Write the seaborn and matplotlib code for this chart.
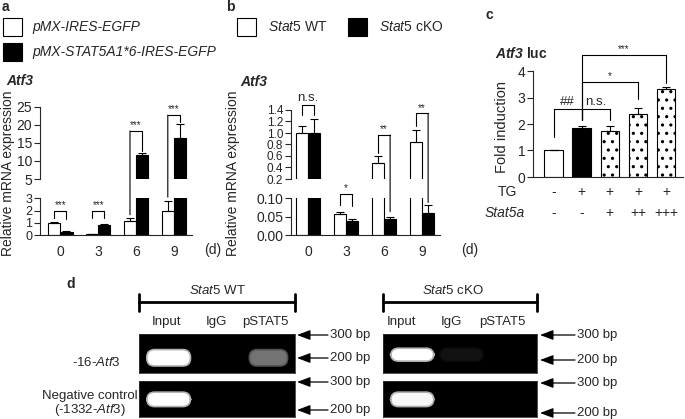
import numpy as np
import pandas as pd
import matplotlib.pyplot as plt
import seaborn as sns
from matplotlib.patches import ConnectionPatch, FancyBboxPatch

# ---- data ----
days = ["0", "3", "6", "9"]

a_groups = ["pMX-IRES-EGFP", "pMX-STAT5A1*6-IRES-EGFP"]
a_ctrl = [1.0, 0.1, 1.17, 1.96]
a_ctrl_err = [0.05, 0.02, 0.19, 0.84]
a_stat = [0.27, 0.82, 11.6, 16.3]
a_stat_err = [0.04, 0.05, 0.7, 3.8]
a_sig = ["***", "***", "***", "***"]

b_groups = ["Stat5 WT", "Stat5 cKO"]
b_wt = [1.0, 0.056, 0.48, 0.85]
b_wt_err = [0.13, 0.007, 0.12, 0.2]
b_ko = [1.0, 0.038, 0.043, 0.059]
b_ko_err = [0.25, 0.005, 0.0065, 0.022]
b_sig = ["n.s.", "*", "**", "**"]

c_tg = ["-", "+", "+", "+", "+"]
c_stat5a = ["-", "-", "+", "++", "+++"]
c_vals = [1.0, 1.85, 1.74, 2.38, 3.32]
c_err = [0.02, 0.09, 0.18, 0.24, 0.09]
c_pairs = [(0, 1), (1, 2), (1, 3), (1, 4)]
c_sig = ["##", "n.s.", "*", "***"]

lanes = ["Input", "IgG", "pSTAT5"]
# band brightness (0 = nothing, 1 = saturated)
wt_top = [1.0, 0.0, 0.45]
wt_bottom = [1.0, 0.0, 0.0]
ko_top = [1.0, 0.07, 0.0]
ko_bottom = [0.97, 0.0, 0.0]

sns.set_style("ticks")
plt.rcParams["font.family"] = ["Liberation Sans", "DejaVu Sans"]
plt.rcParams["mathtext.fontset"] = "custom"
plt.rcParams["mathtext.rm"] = "Liberation Sans"
plt.rcParams["mathtext.it"] = "Liberation Sans:italic"
plt.rcParams["mathtext.bf"] = "Liberation Sans:bold"
plt.rcParams["mathtext.bfit"] = "Liberation Sans:bold:italic"
plt.rcParams["axes.linewidth"] = 0.8
plt.rcParams["hatch.linewidth"] = 1.1

W, H = 685, 419
LW = 0.8
fig = plt.figure(figsize=(W / 100, H / 100), dpi=100)


def box(x0, y0, x1, y1):
    return [x0 / W, 1 - y1 / H, (x1 - x0) / W, (y1 - y0) / H]


bg = fig.add_axes([0, 0, 1, 1])
bg.set_xlim(0, W)
bg.set_ylim(H, 0)
bg.axis("off")


def style_ax(ax):
    ax.set_xlabel("")
    ax.set_ylabel("")
    sns.despine(ax=ax)
    ax.tick_params(axis="y", length=4, width=LW, pad=1.5, labelsize=10)
    ax.tick_params(axis="x", length=0, pad=7, labelsize=10)


def bracket(x1, x2, top, ax_top, left, ax_left, right, ax_right, label, fs):
    ax_top.plot([x1, x2], [top, top], color="k", lw=LW, clip_on=False)
    for x, y, a in ((x1, left, ax_left), (x2, right, ax_right)):
        if a is ax_top:
            ax_top.plot([x, x], [y, top], color="k", lw=LW, clip_on=False)
        else:
            con = ConnectionPatch((x, top), (x, y), coordsA=ax_top.transData,
                                  coordsB=a.transData, color="k", lw=LW)
            fig.add_artist(con)
    ax_top.annotate(label, xy=((x1 + x2) / 2, top), xytext=(0, 0.5),
                    textcoords="offset points", ha="center", va="bottom",
                    fontsize=fs, annotation_clip=False)


def broken_panel(x0, x1, up_y, lo_y, groups, v1, e1, v2, e2, up_lim, lo_lim,
                 up_ticks, lo_ticks, width, xlim, up_fmt, lo_fmt,
                 up_fs=10, lo_fs=10):
    df = pd.DataFrame({"day": days * 2, "group": np.repeat(groups, 4),
                       "value": v1 + v2})
    pal = dict(zip(groups, ["white", "black"]))
    up = fig.add_axes(box(x0, up_y[0], x1, up_y[1]))
    lo = fig.add_axes(box(x0, lo_y[0], x1, lo_y[1]))
    x = np.arange(len(days))
    for ax in (up, lo):
        sns.barplot(data=df, x="day", y="value", hue="group", palette=pal,
                    edgecolor="black", linewidth=LW, width=width, saturation=1,
                    errorbar=None, legend=False, ax=ax)
        for off, v, e in ((-width / 4, v1, e1), (width / 4, v2, e2)):
            ax.errorbar(x + off, v, yerr=[np.zeros(len(v)), e], fmt="none",
                        ecolor="black", elinewidth=LW, capsize=3, capthick=LW)
        ax.set_xlim(*xlim)
        style_ax(ax)
    up.set_ylim(*up_lim)
    up.set_yticks(up_ticks)
    up.set_yticklabels([up_fmt.format(t) for t in up_ticks])
    up.tick_params(axis="y", labelsize=up_fs)
    up.spines["bottom"].set_visible(False)
    up.tick_params(axis="x", bottom=False, labelbottom=False)
    lo.set_ylim(*lo_lim)
    lo.set_yticks(lo_ticks)
    lo.set_yticklabels([lo_fmt.format(t) for t in lo_ticks])
    lo.tick_params(axis="y", labelsize=lo_fs)
    return up, lo


# ---- panel a ----
a_up, a_lo = broken_panel(40, 192, (106.7, 179), (198.3, 235), a_groups,
                          a_ctrl, a_ctrl_err, a_stat, a_stat_err,
                          (5, 25), (0, 3), [5, 10, 15, 20, 25], [0, 1, 2, 3],
                          0.64, (-0.54, 3.48), "{:g}", "{:g}", lo_fs=9)
w = 0.16
bracket(0 - w, 0 + w, 1.97, a_lo, 1.38, a_lo, 1.32, a_lo, a_sig[0], 7)
bracket(1 - w, 1 + w, 1.97, a_lo, 1.38, a_lo, 1.38, a_lo, a_sig[1], 7)
bracket(2 - w, 2 + w, 18.3, a_up, 1.65, a_lo, 12.8, a_up, a_sig[2], 7)
bracket(3 - w, 3 + w, 22.7, a_up, 3.1, a_lo, 20.7, a_up, a_sig[3], 7)

# ---- panel b ----
b_up, b_lo = broken_panel(291, 440, (110, 179), (198, 235), b_groups,
                          b_wt, b_wt_err, b_ko, b_ko_err,
                          (0.2, 1.4), (0, 0.10),
                          [0.2, 0.4, 0.6, 0.8, 1.0, 1.2, 1.4], [0, 0.05, 0.10],
                          0.63, (-0.45, 3.47), "{:.1f}", "{:.2f}", up_fs=8.5)
w = 0.1575
bracket(0 - w, 0 + w, 1.49, b_up, 1.31, b_up, 1.31, b_up, b_sig[0], 9.5)
bracket(1 - w, 1 + w, 0.111, b_lo, 0.081, b_lo, 0.078, b_lo, b_sig[1], 7)
bracket(2 - w, 2 + w, 0.965, b_up, 0.647, b_up, 0.063, b_lo, b_sig[2], 7)
bracket(3 - w, 3 + w, 1.34, b_up, 1.12, b_up, 0.088, b_lo, b_sig[3], 7)

# ---- panel c ----
ax_c = fig.add_axes(box(533, 71, 683, 177))
cond = [f"{t}/{s}" for t, s in zip(c_tg, c_stat5a)]
sns.barplot(x=cond, y=c_vals, hue=cond,
            palette=["white", "black", "white", "white", "white"],
            edgecolor="black", linewidth=LW, width=0.66, saturation=1,
            errorbar=None, legend=False, ax=ax_c)
for p in ax_c.patches[2:5]:
    p.set_hatch("..")
xc = np.arange(len(c_vals))
ax_c.errorbar(xc, c_vals, yerr=[np.zeros(len(c_vals)), c_err], fmt="none",
              ecolor="black", elinewidth=LW, capsize=3, capthick=LW)
ax_c.set_xlim(-0.73, 4.6)
ax_c.set_ylim(0, 4)
ax_c.set_yticks([0, 1, 2, 3, 4])
style_ax(ax_c)
ax_c.tick_params(axis="x", bottom=False, labelbottom=False)
c_top = [2.57, 2.57, 3.6, 4.6]
c_left = [1.5, 2.15, 2.15, 2.15]
c_right = [2.15, 2.15, 2.94, 3.55]
for (i, j), lab, t, l, r in zip(c_pairs, c_sig, c_top, c_left, c_right):
    bracket(i, j, t, ax_c, l, ax_c, r, ax_c, lab, 9.5 if "*" not in lab else 7)
for i, (t, s) in enumerate(zip(c_tg, c_stat5a)):
    ax_c.text(i, -0.142, t, transform=ax_c.get_xaxis_transform(),
              ha="center", va="center", fontsize=10)
    ax_c.text(i, -0.34, s, transform=ax_c.get_xaxis_transform(),
              ha="center", va="center", fontsize=10)

# ---- text / legends for a-c ----
bg.text(5, 7, "a", fontsize=10, weight="bold", ha="center", va="center")
bg.text(230, 7, "b", fontsize=10, weight="bold", ha="center", va="center")
bg.text(489, 15, "c", fontsize=10, weight="bold", ha="center", va="center")
bg.text(71, 284, "d", fontsize=10, weight="bold", ha="center", va="center")

for y, fc, lab in ((27, "white", a_groups[0]), (52, "black", a_groups[1])):
    bg.add_patch(plt.Rectangle((3, y - 9), 19, 18, fc=fc, ec="black", lw=LW))
    bg.text(32, y, lab, fontsize=10, style="italic", va="center")
for x, fc, lab in ((237, "white", r"$\mathit{Stat5}$ WT"),
                   (348, "black", r"$\mathit{Stat5}$ cKO")):
    bg.add_patch(plt.Rectangle((x, 18), 19, 18, fc=fc, ec="black", lw=LW))
    bg.text(x + 31, 27, lab, fontsize=10, va="center")

bg.text(6, 81, "Atf3", fontsize=10, weight="bold", style="italic", va="center")
bg.text(240, 82, "Atf3", fontsize=10, weight="bold", style="italic", va="center")
bg.text(495, 53, r"$\mathbfit{Atf3}$ luc", fontsize=10, weight="bold", va="center")
bg.text(8, 173, "Relative mRNA expression", fontsize=10, rotation=90,
        ha="center", va="center")
bg.text(233, 173, "Relative mRNA expression", fontsize=10, rotation=90,
        ha="center", va="center")
bg.text(502, 127, "Fold induction", fontsize=10.5, rotation=90,
        ha="center", va="center")
bg.text(213, 250, "(d)", fontsize=10, ha="center", va="center")
bg.text(470, 250, "(d)", fontsize=10, ha="center", va="center")
bg.text(498, 192, "TG", fontsize=10, va="center")
bg.text(485, 213, "Stat5a", fontsize=10, style="italic", va="center")

# ---- panel d: ChIP gels ----
lane_x = [0.19, 0.51, 0.83]
lane_w = [0.28, 0.28, 0.245]


def gel(rect, levels, yc, h):
    ax = fig.add_axes(box(*rect))
    ax.set_facecolor("black")
    ax.set_xlim(0, 1)
    ax.set_ylim(0, 1)
    ax.set_xticks([])
    ax.set_yticks([])
    for s in ax.spines.values():
        s.set_color("#333333")
        s.set_linewidth(0.6)
    asp = (rect[2] - rect[0]) / (rect[3] - rect[1])
    for x, wd, lv in zip(lane_x, lane_w, levels):
        if lv <= 0:
            continue
        ax.add_patch(FancyBboxPatch(
            (x - wd / 2, yc - h / 2), wd, h,
            boxstyle="round,pad=0,rounding_size=0.05",
            mutation_aspect=asp, fc=str(lv), ec=str(lv * 0.7), lw=1.2))
    return ax


gel((139, 334, 295, 373), wt_top, 0.39, 0.42)
gel((139, 381, 295, 417), wt_bottom, 0.49, 0.40)
gel((383, 334, 537, 373), ko_top, 0.47, 0.33)
gel((383, 381, 537, 417), ko_bottom, 0.49, 0.40)

for x0, x1, lab, xt in ((139, 295, r"$\mathit{Stat5}$ WT", 217),
                        (383, 537, r"$\mathit{Stat5}$ cKO", 453)):
    bg.plot([x0, x1], [302, 302], color="k", lw=2)
    bg.plot([x0, x0], [294, 311], color="k", lw=2)
    bg.plot([x1, x1], [294, 311], color="k", lw=2)
    bg.text(xt, 290, lab, fontsize=9.5, ha="center", va="center")

for xs in ((167, 216, 265), (402, 451, 502)):
    for x, lab in zip(xs, lanes):
        bg.text(x, 322, lab, fontsize=9.5, ha="center", va="center")

bg.text(96, 362, r"-16-$\mathit{Atf3}$", fontsize=9.5, ha="center", va="center")
bg.text(90, 396, "Negative control", fontsize=9.5, ha="center", va="center")
bg.text(90, 410, r"(-1332-$\mathit{Atf3}$)", fontsize=9.5, ha="center", va="center")

for tip, tail, ys in ((297, 328, (335, 358, 382, 410)),
                      (540, 575, (335, 360, 383, 413))):
    for y, lab in zip(ys, ["300 bp", "200 bp", "300 bp", "200 bp"]):
        bg.annotate("", xy=(tip, y), xytext=(tail, y),
                    arrowprops=dict(arrowstyle="-|>,head_length=0.8,head_width=0.3",
                                    color="k", lw=0.9, shrinkA=0, shrinkB=0))
        bg.text(tail + 2, y, lab, fontsize=9.5, va="center")

fig.savefig("out.png", dpi=100)
